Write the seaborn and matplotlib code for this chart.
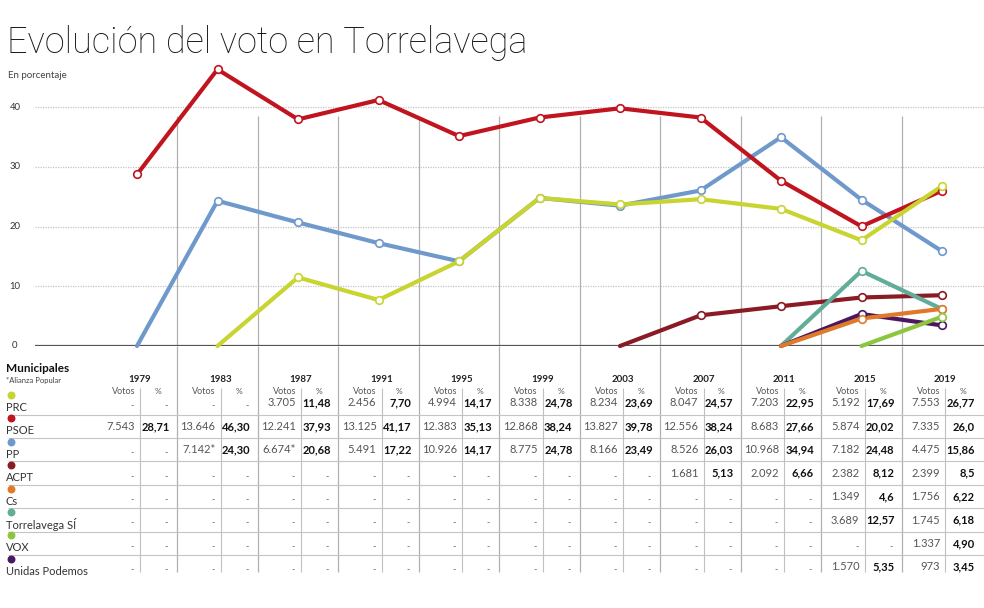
import matplotlib
matplotlib.use("Agg")
import matplotlib.pyplot as plt
import pandas as pd
import seaborn as sns

sns.set_style('white')
plt.rcParams['font.family'] = ['Lato', 'DejaVu Sans']

# Datos: municipales Torrelavega
years = [1979, 1983, 1987, 1991, 1995, 1999, 2003, 2007, 2011, 2015, 2019]
parties = ['PRC', 'PSOE', 'PP', 'ACPT', 'Cs', 'Torrelavega SÍ', 'VOX', 'Unidas Podemos']

prc_votos = [None, None, '3.705', '2.456', '4.994', '8.338', '8.234', '8.047', '7.203', '5.192', '7.553']
prc_pct = [None, None, '11,48', '7,70', '14,17', '24,78', '23,69', '24,57', '22,95', '17,69', '26,77']
psoe_votos = ['7.543', '13.646', '12.241', '13.125', '12.383', '12.868', '13.827', '12.556', '8.683', '5.874', '7.335']
psoe_pct = ['28,71', '46,30', '37,93', '41,17', '35,13', '38,24', '39,78', '38,24', '27,66', '20,02', '26,0']
pp_votos = [None, '7.142*', '6.674*', '5.491', '10.926', '8.775', '8.166', '8.526', '10.968', '7.182', '4.475']
pp_pct = [None, '24,30', '20,68', '17,22', '14,17', '24,78', '23,49', '26,03', '34,94', '24,48', '15,86']
acpt_votos = [None] * 7 + ['1.681', '2.092', '2.382', '2.399']
acpt_pct = [None] * 7 + ['5,13', '6,66', '8,12', '8,5']
cs_votos = [None] * 9 + ['1.349', '1.756']
cs_pct = [None] * 9 + ['4,6', '6,22']
ts_votos = [None] * 9 + ['3.689', '1.745']
ts_pct = [None] * 9 + ['12,57', '6,18']
vox_votos = [None] * 10 + ['1.337']
vox_pct = [None] * 10 + ['4,90']
up_votos = [None] * 9 + ['1.570', '973']
up_pct = [None] * 9 + ['5,35', '3,45']

votos = dict(zip(parties, [prc_votos, psoe_votos, pp_votos, acpt_votos, cs_votos, ts_votos, vox_votos, up_votos]))
pct = dict(zip(parties, [prc_pct, psoe_pct, pp_pct, acpt_pct, cs_pct, ts_pct, vox_pct, up_pct]))

colors = {'PRC': '#c8d42f', 'PSOE': '#c0141f', 'PP': '#6f98cb', 'ACPT': '#8a1b25',
          'Cs': '#e07a2b', 'Torrelavega SÍ': '#62ad99', 'VOX': '#8cc53f', 'Unidas Podemos': '#4b185f'}
draw_order = ['PP', 'PSOE', 'PRC', 'ACPT', 'Torrelavega SÍ', 'Unidas Podemos', 'Cs', 'VOX']

# tabla larga para el grafico: la linea arranca en 0 la eleccion anterior
rows = []
for party in parties:
    vals = pct[party]
    first = next(i for i, v in enumerate(vals) if v)
    if first > 0:
        rows.append((first - 1, party, 0.0))
    for i, v in enumerate(vals):
        if v:
            rows.append((i, party, float(v.replace(',', '.'))))
df = pd.DataFrame(rows, columns=['pos', 'party', 'pct'])

W, H = 984, 608
fig = plt.figure(figsize=(W / 100, H / 100), dpi=100)
xstep = 80.5
x0px = 137
xlim = (-x0px / xstep, (W - x0px) / xstep)
def px2x(p):
    return (p - x0px) / xstep

# grafico
ax = fig.add_axes([0, (H - 346) / H, 1, 284 / H])
ax.set_xlim(*xlim)
ax.set_ylim(0, 284 / 5.975)
ax.axis('off')
for v in [10, 20, 30, 40]:
    ax.hlines(v, px2x(35), xlim[1], colors='#c4c4c4', linestyles=(0, (1, 1)), lw=0.9, zorder=0)
    ax.text(px2x(15), v, str(v), ha='center', va='center', fontsize=6.8, color='#333')
ax.text(px2x(15), 0, '0', ha='center', va='center', fontsize=6.8, color='#333')
for i in range(len(years) - 1):
    ax.vlines(i + 0.5, 0, 38.5, colors='#b0b0b0', lw=0.9, zorder=0)

sns.lineplot(data=df, x='pos', y='pct', hue='party', hue_order=draw_order, palette=colors,
             lw=3, legend=False, ax=ax, clip_on=False, zorder=2)
for party in draw_order:
    sub = df[(df.party == party) & (df.pct > 0)]
    sns.scatterplot(data=sub, x='pos', y='pct', color='white', edgecolor=colors[party],
                    s=30, linewidth=1.2, ax=ax, zorder=3, clip_on=False, legend=False)
ax.hlines(0, px2x(35), xlim[1], colors='#555', lw=1.6, zorder=1)
ax.set_xlabel('')
ax.set_ylabel('')

# titulo
fig.text(7 / W, 1 - 53 / H, 'Evolución del voto en Torrelavega', fontsize=26, weight='light',
         family=['Roboto', 'Lato'], color='#1a1a1a', va='baseline')
fig.text(8 / W, 1 - 78 / H, 'En porcentaje', fontsize=7, color='#444', va='baseline')

# tabla
tax = fig.add_axes([0, 0, 1, (H - 346) / H])
tax.set_xlim(*xlim)
tax.set_ylim(H, 346)
tax.axis('off')

def row_y(i):
    return 403 + 23.4 * i

tax.text(px2x(6), 372, 'Municipales', fontsize=8.5, weight='bold', color='#111', va='baseline')
tax.text(px2x(6), 381, '*Alianza Popular', fontsize=5.5, color='#444', va='center')

for i in range(len(years) - 1):
    tax.vlines(i + 0.5, 346, 572, colors='#b0b0b0', lw=0.9)
for r in range(len(parties) - 1):
    tax.hlines(row_y(r) + 11.5, px2x(8), xlim[1], colors='#c4c4c4', lw=0.8)

for j, yr in enumerate(years):
    d = j + 3 / xstep
    tax.vlines(d, 388, 572, colors='#c0c0c0', lw=0.8)
    tax.text(d, 379, str(yr), ha='center', va='center', fontsize=7, weight='bold', color='#222')
    tax.text(d - 5 / xstep, 391, 'Votos', ha='right', va='center', fontsize=6.5, color='#555')
    tax.text(d + 18 / xstep, 391, '%', ha='center', va='center', fontsize=6, color='#555')
    for r, party in enumerate(parties):
        y = row_y(r)
        v = votos[party][j]
        p = pct[party][j]
        if v:
            tax.text(d - 5 / xstep, y, v, ha='right', va='center', fontsize=8, color='#555')
        else:
            tax.text(d - 6 / xstep, y + 3, '-', ha='right', va='center', fontsize=6.5, color='#666')
        if p:
            tax.text(d + 30 / xstep, y, p, ha='right', va='center', fontsize=8, weight='bold', color='#111')
        else:
            tax.text(d + 28 / xstep, y + 3, '-', ha='right', va='center', fontsize=6.5, color='#666')

for r, party in enumerate(parties):
    y = row_y(r)
    tax.scatter(px2x(11), y - 8, s=22, color=colors[party], zorder=3)
    tax.text(px2x(6), y + 4.5, party, ha='left', va='center', fontsize=8, color='#333')

fig.savefig('out.png', dpi=100)
